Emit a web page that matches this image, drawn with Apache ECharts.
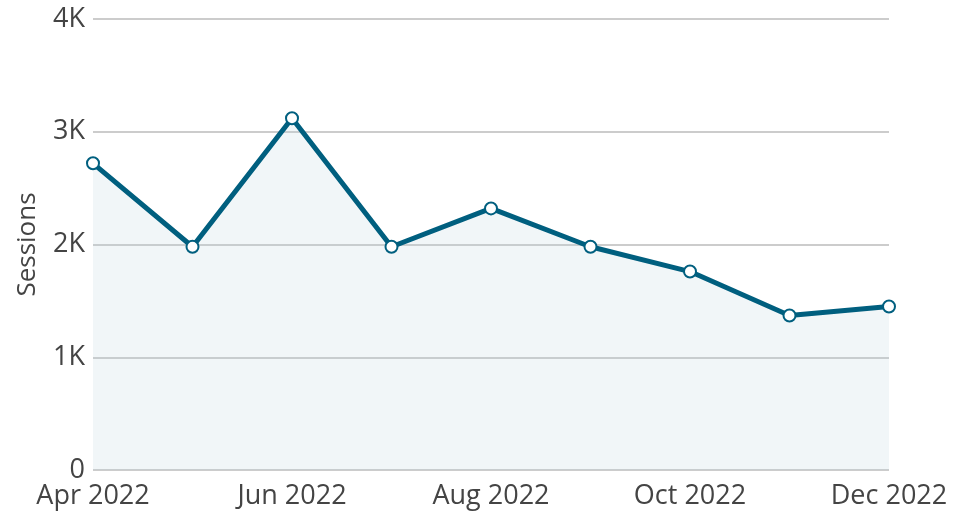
<!DOCTYPE html>
<html>
<head>
<meta charset="utf-8">
<script src="https://cdn.jsdelivr.net/npm/echarts@6/dist/echarts.min.js"></script>
<style>
  html, body { margin: 0; padding: 0; background: #fff; }
  #chart { width: 974px; height: 517px; }
</style>
</head>
<body>
<div id="chart"></div>
<script>
const months = ['Apr 2022', 'May 2022', 'Jun 2022', 'Jul 2022', 'Aug 2022', 'Sep 2022', 'Oct 2022', 'Nov 2022', 'Dec 2022']
const sessions = [2720, 1980, 3120, 1980, 2320, 1980, 1760, 1370, 1450]

const chart = echarts.init(document.getElementById('chart'))

chart.setOption({
  animation: false,
  textStyle: { fontFamily: 'Open Sans' },
  grid: { left: 93, right: 85, top: 19, bottom: 47 },
  xAxis: {
    type: 'category',
    data: months,
    boundaryGap: false,
    axisLine: { show: false },
    axisTick: { show: false },
    axisLabel: {
      interval: 1,
      color: '#444',
      fontSize: 27,
      margin: 13
    }
  },
  yAxis: {
    type: 'value',
    min: 0,
    max: 4000,
    interval: 1000,
    name: 'Sessions',
    nameLocation: 'middle',
    nameGap: 52,
    nameTextStyle: { color: '#444', fontSize: 26 },
    axisLine: { show: false },
    axisTick: { show: false },
    axisLabel: {
      color: '#444',
      fontSize: 27,
      margin: 8,
      formatter: v => v === 0 ? '0' : (v / 1000) + 'K'
    },
    splitLine: { lineStyle: { color: '#cccccc', width: 2 } }
  },
  series: [{
    type: 'line',
    data: sessions,
    symbol: 'emptyCircle',
    symbolSize: 12,
    lineStyle: { color: '#005f7f', width: 5 },
    itemStyle: { color: '#005f7f', borderColor: '#005f7f', borderWidth: 3 },
    areaStyle: { color: 'rgba(190, 212, 224, 0.3)' }
  }]
})
</script>
</body>
</html>
